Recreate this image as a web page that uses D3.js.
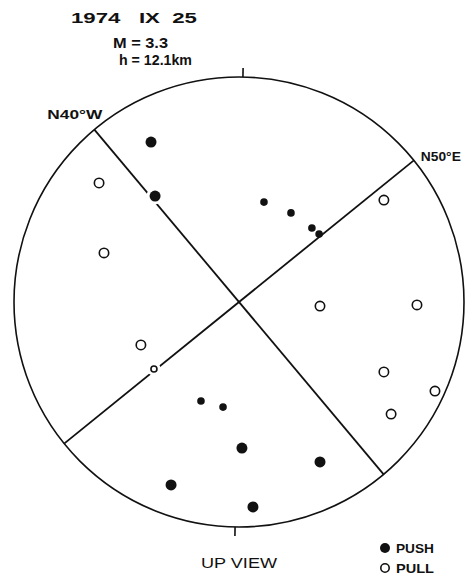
<!DOCTYPE html>
<html>
<head>
<meta charset="utf-8">
<script src="https://cdn.jsdelivr.net/npm/d3@7"></script>
<style>
body{margin:0;background:#fff;}
svg text{font-family:"Liberation Sans", Arial, sans-serif;font-weight:bold;fill:#111;}
</style>
</head>
<body>
<svg id="beach" width="469" height="575"></svg>
<script>
// first motions on the lower hemisphere, unit circle coords (east, north)
var pushX = [-0.391, -0.373, 0.111, 0.231, 0.324, 0.356, -0.169, -0.071, 0.013, 0.36, -0.302, 0.062]
var pushY = [0.711, 0.471, 0.444, 0.396, 0.329, 0.302, -0.44, -0.467, -0.649, -0.711, -0.813, -0.911]
var pushClear = [1, 1, 0, 0, 0, 0, 0, 0, 1, 1, 1, 1]

var pullX = [-0.622, -0.6, 0.644, 0.36, 0.791, -0.436, -0.378, 0.644, 0.871, 0.676]
var pullY = [0.529, 0.218, 0.453, -0.018, -0.013, -0.191, -0.298, -0.311, -0.396, -0.498]
var pullClear = [1, 1, 1, 1, 1, 1, 0, 1, 1, 1]

var planeStrikes = [-40, 51]
var planeLabels = ['N40°W', 'N50°E']
var tickAzimuths = [1, 181]

var titleLines = ['1974   IX  25', 'M = 3.3', 'h = 12.1km']
var viewLabel = 'UP VIEW'
var legendLabels = ['PUSH', 'PULL']

function beach(){

	function main(){
		var push = pushX.map(function(v, i){return {x: v, y: pushY[i], clear: pushClear[i], kind: 'push'}})
		var pull = pullX.map(function(v, i){return {x: v, y: pullY[i], clear: pullClear[i], kind: 'pull'}})
		draw(push.concat(pull))
	}

	function draw(points){
		var svg = d3.select('svg#beach')
		var x = d3.scaleLinear().domain([-1, 1]).range([14, 464])
		var y = d3.scaleLinear().domain([-1, 1]).range([527, 77])
		var R = x(1) - x(0)
		var rad = d3.scaleOrdinal().domain([1, 0]).range([5.5, 3.8])

		svg.append('circle')
			.attr('cx', x(0))
			.attr('cy', y(0))
			.attr('r', R)
			.style('fill', 'none')
			.style('stroke', '#111')
			.style('stroke-width', 1.6)

		// north / south ticks
		svg.selectAll('.tick')
			.data(tickAzimuths)
			.enter()
			.append('line')
			.attr('class', 'tick')
			.attr('x1', function(a){return x(Math.sin(a * Math.PI / 180))})
			.attr('y1', function(a){return y(Math.cos(a * Math.PI / 180))})
			.attr('x2', function(a){return x(Math.sin(a * Math.PI / 180)) + 9 * Math.sin(a * Math.PI / 180)})
			.attr('y2', function(a){return y(Math.cos(a * Math.PI / 180)) - 9 * Math.cos(a * Math.PI / 180)})
			.style('stroke', '#111')
			.style('stroke-width', 1.6)

		// nodal planes
		svg.selectAll('.plane')
			.data(planeStrikes)
			.enter()
			.append('line')
			.attr('class', 'plane')
			.attr('x1', function(s){return x(Math.sin(s * Math.PI / 180))})
			.attr('y1', function(s){return y(Math.cos(s * Math.PI / 180))})
			.attr('x2', function(s){return x(-Math.sin(s * Math.PI / 180))})
			.attr('y2', function(s){return y(-Math.cos(s * Math.PI / 180))})
			.style('stroke', '#111')
			.style('stroke-width', 1.8)

		svg.selectAll('.plabel')
			.data(planeStrikes)
			.enter()
			.append('text')
			.attr('class', 'plabel')
			.attr('x', function(s, i){return x(Math.sin(s * Math.PI / 180)) + (i === 0 ? 8 : 7)})
			.attr('y', function(s, i){return y(Math.cos(s * Math.PI / 180)) + (i === 0 ? -11 : 1)})
			.attr('text-anchor', function(s, i){return i === 0 ? 'end' : 'start'})
			.attr('textLength', function(s, i){return i === 0 ? 55 : 40})
			.attr('lengthAdjust', 'spacingAndGlyphs')
			.style('font-size', '12.5px')
			.text(function(s, i){return planeLabels[i]})

		// white halos break the plane lines round the bigger marks
		svg.selectAll('.halo')
			.data(points.filter(function(d){return d.clear || d.kind === 'pull'}))
			.enter()
			.append('circle')
			.attr('class', 'halo')
			.attr('cx', function(d){return x(d.x)})
			.attr('cy', function(d){return y(d.y)})
			.attr('r', function(d){return rad(d.clear) + 3})
			.style('fill', '#fff')

		svg.selectAll('.point')
			.data(points)
			.enter()
			.append('circle')
			.attr('class', 'point')
			.attr('cx', function(d){return x(d.x)})
			.attr('cy', function(d){return y(d.y)})
			.attr('r', function(d){return d.kind === 'push' ? rad(d.clear) : rad(d.clear) - 0.8})
			.style('fill', function(d){return d.kind === 'push' ? '#111' : '#fff'})
			.style('stroke', '#111')
			.style('stroke-width', function(d){return d.kind === 'push' ? 0 : 1.6})

		// header
		svg.append('text').attr('x', 71).attr('y', 23).attr('textLength', 126).attr('lengthAdjust', 'spacingAndGlyphs')
			.style('font-size', '15px').style('white-space', 'pre').text(titleLines[0])
		svg.append('text').attr('x', 113).attr('y', 48).attr('textLength', 55).attr('lengthAdjust', 'spacingAndGlyphs')
			.style('font-size', '14px').text(titleLines[1])
		svg.append('text').attr('x', 119).attr('y', 65).attr('textLength', 73).attr('lengthAdjust', 'spacingAndGlyphs')
			.style('font-size', '14px').text(titleLines[2])

		svg.append('text').attr('x', 201).attr('y', 568).attr('textLength', 76).attr('lengthAdjust', 'spacingAndGlyphs')
			.style('font-size', '14.5px').style('font-weight', 'normal').text(viewLabel)

		// legend
		var lg = svg.selectAll('.legend')
			.data(legendLabels)
			.enter()
			.append('g')
			.attr('class', 'legend')
			.attr('transform', function(d, i){return 'translate(385,' + (548 + i * 20) + ')'})
		lg.append('circle')
			.attr('r', function(d, i){return i === 0 ? 5 : 4.2})
			.style('fill', function(d, i){return i === 0 ? '#111' : '#fff'})
			.style('stroke', '#111')
			.style('stroke-width', function(d, i){return i === 0 ? 0 : 1.6})
		lg.append('text')
			.attr('x', 11)
			.attr('y', 5)
			.attr('textLength', 38)
			.attr('lengthAdjust', 'spacingAndGlyphs')
			.style('font-size', '13px')
			.text(function(d){return d})
	}
	return {
		main: main
	}
}
beach().main()
</script>
</body>
</html>
